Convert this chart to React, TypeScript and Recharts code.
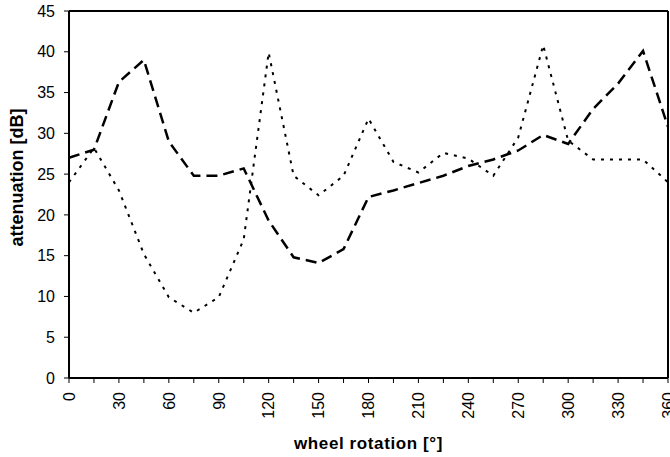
import { LineChart, Line, XAxis, YAxis, ReferenceLine } from 'recharts'

// wheel angle in degrees, one point every 15°
const angles = [0, 15, 30, 45, 60, 75, 90, 105, 120, 135, 150, 165, 180, 195, 210, 225, 240, 255, 270, 285, 300, 315, 330, 345, 360]

// attenuation in dB
const dashedSeries = [27, 28, 36.3, 39, 29, 24.8, 24.8, 25.7, 19.3, 14.8, 14.1, 15.8, 22.2, 23, 23.9, 24.8, 26, 26.8, 27.9, 29.8, 28.7, 33, 36.1, 40.1, 30.8]
const dottedSeries = [24, 28.2, 23, 15.2, 9.9, 8, 9.9, 17, 39.9, 24.8, 22.4, 24.8, 31.8, 26.5, 25.2, 27.6, 26.9, 24.8, 29.5, 40.8, 29.1, 26.8, 26.8, 26.8, 24]

const xTicks = angles
const yTicks = [0, 5, 10, 15, 20, 25, 30, 35, 40, 45]

const data = angles.map((a, i) => ({ angle: a, dashed: dashedSeries[i], dotted: dottedSeries[i] }))

const font = '"Liberation Sans", Arial, sans-serif'

function AngleTick({ x, y, payload }: any) {
  if (payload.value % 30 !== 0) return <g />
  return (
    <text
      x={x}
      y={y}
      transform={`rotate(-90 ${x} ${y})`}
      textAnchor="end"
      dy="0.36em"
      fontSize={16}
      fontFamily={font}
      fill="#000"
    >
      {payload.value}
    </text>
  )
}

function YTitle({ viewBox }: any) {
  const cx = viewBox.x + 17
  const cy = viewBox.y + viewBox.height / 2 - 17
  return (
    <text
      x={cx}
      y={cy}
      transform={`rotate(-90 ${cx} ${cy})`}
      textAnchor="middle"
      dy="0.36em"
      fontSize={18}
      fontWeight="bold"
      fontFamily={font}
      fill="#000"
    >
      attenuation [dB]
    </text>
  )
}

function XTitle({ viewBox }: any) {
  const cx = viewBox.x + viewBox.width / 2
  return (
    <text x={cx} y={viewBox.y + 71} textAnchor="middle" fontSize={17} fontWeight="bold" fontFamily={font} fill="#000" letterSpacing={0.6}>
      wheel rotation [°]
    </text>
  )
}

export default function App() {
  return (
    <div style={{ position: 'absolute', left: 0, top: 0, background: '#fff' }}>
      <LineChart width={670} height={457} data={data} margin={{ top: 11, right: 2, left: 0, bottom: 0 }}>
        <XAxis
          dataKey="angle"
          type="number"
          domain={[0, 360]}
          ticks={xTicks}
          interval={0}
          height={79}
          tickSize={5}
          tickMargin={9}
          tick={<AngleTick />}
          axisLine={{ stroke: '#000', strokeWidth: 2 }}
          tickLine={{ stroke: '#000', strokeWidth: 1 }}
          label={<XTitle />}
        />
        <YAxis
          type="number"
          domain={[0, 45]}
          ticks={yTicks}
          interval={0}
          width={69}
          tickSize={5}
          tickMargin={9}
          tick={{ fill: '#000', fontSize: 16, fontFamily: font }}
          axisLine={{ stroke: '#000', strokeWidth: 2 }}
          tickLine={{ stroke: '#000', strokeWidth: 1 }}
          label={<YTitle />}
        />
        <ReferenceLine y={45} stroke="#000" strokeWidth={2} />
        <ReferenceLine x={360} stroke="#000" strokeWidth={2} />
        <Line
          dataKey="dashed"
          type="linear"
          stroke="#000"
          strokeWidth={2.5}
          strokeDasharray="11 6"
          dot={false}
          isAnimationActive={false}
        />
        <Line
          dataKey="dotted"
          type="linear"
          stroke="#000"
          strokeWidth={2}
          strokeDasharray="3 6"
          dot={false}
          isAnimationActive={false}
        />
      </LineChart>
    </div>
  )
}
